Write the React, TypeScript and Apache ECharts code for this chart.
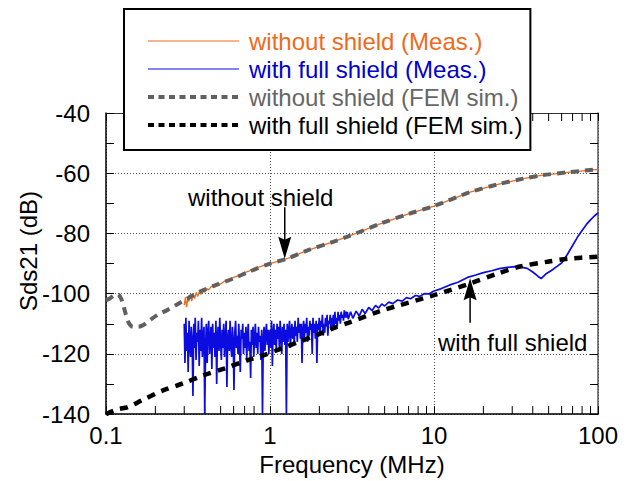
import React, { useEffect, useRef } from "react";
import * as echarts from "echarts";

const FONT = '"Liberation Sans", Arial, Helvetica, sans-serif';

const seriesNames = [
  "without shield (Meas.)",
  "with full shield (Meas.)",
  "without shield (FEM sim.)",
  "with full shield (FEM sim.)",
];

const xTickLabels = ["0.1", "1", "10", "100"];
const minorTickFreqs = [0.2, 0.3, 0.4, 0.5, 0.6, 0.7, 0.8, 0.9, 2, 3, 4, 5, 6, 7, 8, 9, 20, 30, 40, 50, 60, 70, 80, 90];

const orangeFreq = [0.3, 0.305, 0.31, 0.315, 0.32, 0.327, 0.333, 0.34, 0.347, 0.355, 0.362, 0.37, 0.38, 0.39, 0.4, 0.41, 0.42, 0.44, 0.46, 0.48, 0.5, 0.53, 0.56, 0.6, 0.65, 0.7, 0.75, 0.8, 0.9, 1.0, 1.27, 1.68, 2.42, 3.0, 4.69, 7.0, 10, 16.6, 24.5, 35, 45, 65.6, 100];
const orangeVal = [-103.8, -101.2, -104.5, -101.8, -102.6, -100.4, -102.5, -100.2, -101.6, -99.6, -101, -99.4, -100.2, -98.6, -99.6, -98.2, -98.8, -97.6, -97.8, -96.6, -96.8, -95.8, -95.4, -94.6, -93.9, -93, -92.4, -91.7, -90.8, -90, -88.4, -85.7, -82.8, -81, -76.8, -73.5, -70.9, -66.3, -63.7, -61.8, -60.7, -59.7, -58.7];

const blueFreq = [
  0.300, 0.303, 0.307, 0.310, 0.314, 0.317, 0.321, 0.324, 0.328, 0.331,
  0.335, 0.339, 0.343, 0.346, 0.350, 0.354, 0.358, 0.362, 0.366, 0.370,
  0.374, 0.378, 0.383, 0.387, 0.391, 0.396, 0.400, 0.405, 0.409, 0.414,
  0.418, 0.423, 0.428, 0.433, 0.437, 0.442, 0.447, 0.452, 0.457, 0.462,
  0.468, 0.473, 0.478, 0.483, 0.489, 0.494, 0.500, 0.505, 0.511, 0.517,
  0.522, 0.528, 0.534, 0.540, 0.546, 0.552, 0.558, 0.565, 0.571, 0.577,
  0.584, 0.590, 0.597, 0.603, 0.610, 0.617, 0.624, 0.631, 0.638, 0.645,
  0.652, 0.659, 0.667, 0.674, 0.682, 0.689, 0.697, 0.705, 0.713, 0.721,
  0.729, 0.737, 0.745, 0.753, 0.762, 0.770, 0.779, 0.788, 0.796, 0.805,
  0.814, 0.823, 0.833, 0.842, 0.851, 0.861, 0.870, 0.880, 0.890, 0.900,
  0.910, 0.920, 0.931, 0.941, 0.952, 0.962, 0.973, 0.984, 0.995,
  1.000, 1.011, 1.022, 1.034, 1.045, 1.056, 1.068, 1.080, 1.092, 1.104,
  1.116, 1.128, 1.141, 1.153, 1.166, 1.179, 1.192, 1.205, 1.218, 1.232,
  1.245, 1.259, 1.273, 1.287, 1.301, 1.316, 1.330, 1.345, 1.360, 1.375,
  1.390, 1.405, 1.421, 1.436, 1.452, 1.468, 1.485, 1.501, 1.518, 1.534,
  1.551, 1.568, 1.586, 1.603, 1.621, 1.639, 1.657, 1.675, 1.694, 1.712,
  1.731, 1.750, 1.770, 1.789, 1.809, 1.829, 1.849, 1.870, 1.890, 1.911,
  1.932, 1.954, 1.975, 1.997, 2.019, 2.041, 2.064, 2.087, 2.110, 2.133,
  2.157, 2.180, 2.204, 2.229, 2.253, 2.278, 2.303, 2.329, 2.354, 2.380,
  2.407, 2.433, 2.460, 2.487, 2.515, 2.542, 2.570, 2.599, 2.627, 2.656,
  2.686, 2.715, 2.745, 2.776, 2.806, 2.837, 2.869, 2.900, 2.932, 2.965,
  3.0, 3.1, 3.2, 3.35, 3.5, 3.65, 3.8, 4.0, 4.2, 4.4, 4.6, 4.8, 5.0, 5.3, 5.6, 6.0, 6.4, 6.8, 7.2, 7.7, 8.2, 8.7, 9.3, 10,
  11, 12.5, 14, 16, 18, 20, 22.5, 25, 28, 31, 34, 37, 40, 43, 45, 48, 52, 56, 60, 65, 70, 75, 80, 85, 90, 95, 100,
];
const blueVal = [
  -110, -123, -108, -119, -113, -126, -109, -117, -121, -111,
  -115, -134, -110, -118, -108, -122, -113, -116, -109, -124,
  -112, -119, -108, -121, -114, -111, -140, -117, -110, -123,
  -113, -109, -120, -115, -111, -125, -110, -118, -113, -121,
  -109, -130, -114, -111, -119, -108, -116, -122, -112, -118,
  -110, -121, -114, -109, -131, -115, -112, -119, -109, -117,
  -121, -111, -116, -132, -113, -109, -118, -114, -120, -110,
  -117, -126, -112, -115, -110, -120, -113, -118, -111, -122,
  -114, -110, -119, -116, -128, -112, -117, -111, -121, -115,
  -110, -118, -113, -120, -111, -116, -114, -122, -112, -140,
  -115, -111, -119, -113, -110, -117, -112, -120, -114,
  -112, -118, -109, -124, -113, -110, -117, -112, -119, -110,
  -115, -111, -118, -109, -114, -120, -111, -116, -110, -117,
  -112, -140, -110, -116, -112, -109, -118, -113, -110, -115,
  -111, -117, -109, -114, -111, -116, -108, -113, -110, -115,
  -110, -123, -112, -109, -115, -110, -113, -108, -116, -111,
  -114, -109, -112, -110, -120, -108, -113, -110, -115, -109,
  -123, -110, -112, -108, -114, -109, -111, -107, -114, -110,
  -113, -108, -111, -107, -114, -109, -110, -107, -112, -108,
  -111, -107, -112, -106, -110, -108, -111, -106, -109, -107,
  -110, -106, -108, -107, -109, -105.5, -108, -106, -108, -106,
  -108.5, -106, -108.2, -105.8, -107.4, -105.2, -106.6, -104.6, -105.6, -103.9, -104.8, -103.4, -104.1, -102.8, -103.3, -102.1, -102.5, -101.3, -101.7, -100.6, -100.9, -100, -100.1, -99.1,
  -98.4, -97.1, -96.2, -94.6, -93.8, -93, -92.4, -91.7, -91.3, -91, -91.2, -91.6, -92.8, -94.2, -95, -93.5, -92.3, -91, -89.8, -87, -84, -81.2, -79, -77, -75.5, -74.2, -73.2,
];

const grayFreq = [0.1, 0.106, 0.112, 0.118, 0.124, 0.13, 0.137, 0.146, 0.157, 0.168, 0.185, 0.207, 0.239, 0.283, 0.316, 0.374, 0.475, 0.595, 0.755, 1.0, 1.27, 1.68, 2.42, 3.0, 4.69, 7.0, 10, 16.6, 24.5, 35, 45, 65.6, 100];
const grayVal = [-102.2, -101.5, -100.6, -100.2, -101.8, -105.5, -109.5, -111, -111, -110.5, -108.8, -107, -105.3, -103, -101.5, -99.3, -97, -95, -92.6, -90, -88.4, -85.7, -82.8, -81, -76.8, -73.5, -70.9, -66.3, -63.7, -61.8, -60.7, -59.7, -58.7];

const blackFreq = [0.1, 0.118, 0.136, 0.166, 0.219, 0.295, 0.39, 0.53, 0.72, 0.93, 1.2, 1.53, 1.94, 2.42, 3.0, 4.69, 10, 16.6, 24.5, 33.5, 49, 65.6, 100];
const blackVal = [-140, -138.4, -137.7, -135.4, -132.3, -129.8, -127.2, -124.8, -122.2, -120.3, -118, -115.8, -113.7, -111.5, -109.7, -105.8, -100.5, -96.6, -93.3, -91, -89.4, -88.4, -87.7];

// annotation arrows: [frequency, tail dB, head dB]
const arrowFreq = [1.23, 16.6];
const arrowFrom = [-71.3, -109.7];
const arrowTo = [-88.4, -94.9];
const annotationTexts = ["without shield", "with full shield"];

const zip = (xs: number[], ys: number[]) => xs.map((x, i) => [x, ys[i]]);

export default function App() {
  const ref = useRef<HTMLDivElement>(null);
  useEffect(() => {
    if (!ref.current) return;
    const chart = echarts.init(ref.current, undefined, { renderer: "svg" });
    const colors = ["#f06a1c", "#0c0ce0", "#606060", "#000000"];
    const textColors = ["#f06a1c", "#0000d0", "#666666", "#000000"];
    const yAxisBase = {
      type: "value",
      min: -140,
      max: -40,
      interval: 20,
      splitLine: { show: false },
      axisTick: { show: true, inside: true, length: 8, lineStyle: { color: "#000" } },
      minorTick: { show: true, splitNumber: 2, length: 8, lineStyle: { color: "#000" } },
    };
    chart.setOption({
      animation: false,
      backgroundColor: "#ffffff",
      textStyle: { fontFamily: FONT },
      grid: { left: 106, right: 32, top: 113, bottom: 64, containLabel: false },
      xAxis: [
        {
          type: "log",
          logBase: 10,
          min: 0.1,
          max: 100,
          position: "bottom",
          name: "Frequency (MHz)",
          nameLocation: "middle",
          nameGap: 35,
          nameTextStyle: { fontSize: 24, color: "#000", fontFamily: FONT },
          axisLine: { show: true, lineStyle: { color: "#000", width: 1.5 } },
          axisTick: { show: true, inside: true, length: 8, lineStyle: { color: "#000" } },
          axisLabel: {
            fontSize: 24,
            color: "#000",
            margin: 9,
            fontFamily: FONT,
            formatter: (v: number) => {
              const i = Math.round(Math.log10(v)) + 1;
              return xTickLabels[i] ?? String(v);
            },
          },
          splitLine: { show: true, lineStyle: { color: "#555", type: [1, 2], width: 1 } },
        },
        {
          type: "log",
          logBase: 10,
          min: 0.1,
          max: 100,
          position: "top",
          axisLine: { show: true, lineStyle: { color: "#333", width: 1 } },
          axisTick: { show: true, inside: true, length: 8, lineStyle: { color: "#000" } },
          axisLabel: { show: false },
          splitLine: { show: false },
        },
      ],
      yAxis: [
        {
          ...yAxisBase,
          position: "left",
          axisLine: { show: true, lineStyle: { color: "#000", width: 1.5 } },
          axisLabel: { fontSize: 24, color: "#000", margin: 16, fontFamily: FONT },
          splitLine: { show: true, lineStyle: { color: "#555", type: [1, 2], width: 1 } },
        },
        {
          ...yAxisBase,
          position: "right",
          axisLine: { show: true, lineStyle: { color: "#555", width: 1.5 } },
          axisLabel: { show: false },
        },
      ],
      legend: {
        orient: "vertical",
        left: 124,
        top: 9,
        backgroundColor: "#ffffff",
        borderColor: "#000",
        borderWidth: 2,
        borderRadius: 0,
        padding: [20, 8, 13, 22],
        itemGap: 4,
        itemWidth: 91,
        itemHeight: 14,
        selectedMode: false,
        textStyle: { fontSize: 24, fontFamily: FONT, padding: [0, 0, 0, 5] },
        data: seriesNames.map((n, i) => ({
          name: n,
          itemStyle: { opacity: 0, borderWidth: 0 },
          textStyle: { color: textColors[i], fontSize: 24, fontFamily: FONT, padding: [0, 0, 0, 5] },
          lineStyle: i < 2 ? { width: 1.2 } : { width: 4, type: [6, 4.5] },
        })),
      },
      graphic: [
        {
          type: "text",
          left: 188,
          top: 185,
          style: { text: annotationTexts[0], fontSize: 24, fontFamily: FONT, fill: "#000" },
        },
        {
          type: "text",
          left: 438,
          top: 330,
          style: { text: annotationTexts[1], fontSize: 24, fontFamily: FONT, fill: "#000" },
        },
        {
          type: "text",
          x: 28,
          y: 251,
          rotation: Math.PI / 2,
          style: {
            text: "Sds21 (dB)",
            fontSize: 24,
            fontFamily: FONT,
            fill: "#000",
            align: "center",
            verticalAlign: "middle",
          },
        },
      ],
      series: [
        {
          name: seriesNames[0],
          type: "line",
          data: zip(orangeFreq, orangeVal),
          symbol: "none",
          showSymbol: false,
          lineStyle: { color: colors[0], width: 1.3 },
          itemStyle: { color: colors[0] },
        },
        {
          name: seriesNames[1],
          type: "line",
          data: zip(blueFreq, blueVal),
          symbol: "none",
          showSymbol: false,
          lineStyle: { color: colors[1], width: 1.7 },
          itemStyle: { color: colors[1] },
        },
        {
          name: seriesNames[2],
          type: "line",
          data: zip(grayFreq, grayVal),
          symbol: "none",
          showSymbol: false,
          smooth: 0.3,
          lineStyle: { color: colors[2], width: 4, type: [8, 6] },
          itemStyle: { color: colors[2] },
        },
        {
          name: seriesNames[3],
          type: "line",
          data: zip(blackFreq, blackVal),
          symbol: "none",
          showSymbol: false,
          smooth: 0.3,
          lineStyle: { color: colors[3], width: 4.5, type: [8, 7] },
          itemStyle: { color: colors[3] },
        },
        {
          name: "minor ticks",
          type: "custom",
          silent: true,
          clip: false,
          data: minorTickFreqs.map((f) => [f, -140]),
          encode: { x: 0, y: 1 },
          renderItem: (_p: any, api: any) => {
            const f = api.value(0);
            const b = api.coord([f, -140]);
            const t = api.coord([f, -40]);
            return {
              type: "group",
              children: [
                { type: "line", shape: { x1: b[0], y1: b[1], x2: b[0], y2: b[1] - 8 }, style: { stroke: "#000", lineWidth: 1 } },
                { type: "line", shape: { x1: t[0], y1: t[1], x2: t[0], y2: t[1] + 8 }, style: { stroke: "#000", lineWidth: 1 } },
              ],
            };
          },
        },
        {
          name: "arrows",
          type: "custom",
          silent: true,
          clip: false,
          z: 5,
          data: arrowFreq.map((f, i) => [f, arrowFrom[i], arrowTo[i]]),
          encode: { x: 0, y: [1, 2] },
          renderItem: (_p: any, api: any) => {
            const f = api.value(0);
            const a = api.coord([f, api.value(1)]);
            const b = api.coord([f, api.value(2)]);
            const dir = b[1] > a[1] ? 1 : -1;
            const len = 22;
            return {
              type: "group",
              children: [
                { type: "line", shape: { x1: a[0], y1: a[1], x2: b[0], y2: b[1] - dir * 6 }, style: { stroke: "#000", lineWidth: 1.5 } },
                {
                  type: "polygon",
                  shape: {
                    points: [
                      [b[0], b[1]],
                      [b[0] - 6.5, b[1] - dir * len],
                      [b[0], b[1] - dir * (len - 3)],
                      [b[0] + 6.5, b[1] - dir * len],
                    ],
                  },
                  style: { fill: "#000" },
                },
              ],
            };
          },
        },
      ],
    });
    return () => chart.dispose();
  }, []);
  return <div ref={ref} style={{ position: "fixed", left: 0, top: 0, width: 630, height: 481 }} />;
}
